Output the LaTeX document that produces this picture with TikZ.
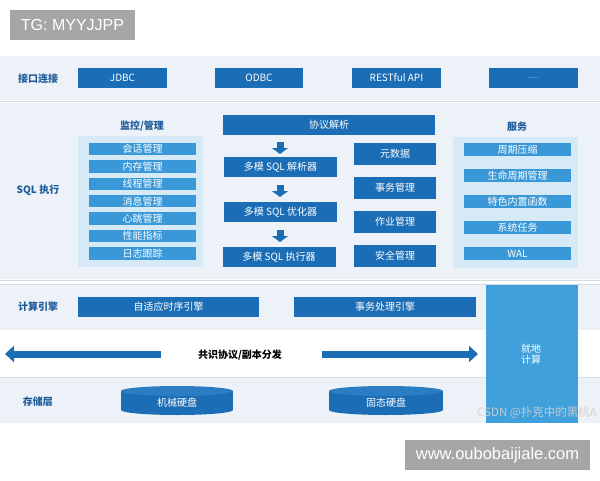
\documentclass[tikz,border=0pt]{standalone}
\usepackage{fontspec}
\setmainfont{Noto Sans CJK SC}
\newfontfamily\wmfont{Liberation Sans}
\usetikzlibrary{arrows.meta}
\definecolor{cdark}{HTML}{1B6DB5}
\definecolor{clight}{HTML}{3A98D8}
\definecolor{cpanel}{HTML}{D5E9F6}
\definecolor{cband}{HTML}{EDF2F8}
\definecolor{cline}{HTML}{D6DCE3}
\definecolor{clab}{HTML}{1E5B99}
\definecolor{cside}{HTML}{3FA0DC}
\definecolor{ctop}{HTML}{2A7DC2}
\definecolor{cwm}{HTML}{A6A6A6}
\tikzset{
  dbox/.style={fill=cdark, text=white, inner sep=0pt, font=\fontsize{10}{11}\selectfont},
  lbox/.style={fill=clight, text=white, inner sep=0pt, minimum width=107pt, font=\fontsize{10}{11}\selectfont},
  lab/.style={text=clab, font=\fontsize{10}{11}\selectfont\bfseries, inner sep=0pt},
  blockarrow/.style={cdark, line width=7pt, -{Triangle[length=6pt,width=16pt]}},
  bigarrow/.style={cdark, line width=7pt, -{Triangle[length=9pt,width=16pt]}},
  wmbox/.style={fill=cwm, text=white, inner sep=0pt}
}
\begin{document}
\begin{tikzpicture}[x=1pt,y=-1pt]
\useasboundingbox (0,0) rectangle (600,480);
\fill[white] (0,0) rectangle (600,480);
% bands
\fill[cband] (0,56) rectangle (600,100);
\draw[cline, line width=1pt] (0,101) -- (600,101);
\fill[cband] (0,103) rectangle (600,279);
\draw[cline, line width=1pt] (0,280.5) -- (600,280.5);
\draw[cline, line width=1pt] (0,284) -- (600,284);
\fill[cband] (0,285) rectangle (600,330);
\draw[cline, line width=0.8pt] (0,377.5) -- (600,377.5);
\fill[cband] (0,378) rectangle (600,423);

% watermark box top
\node[wmbox, minimum width=125pt, minimum height=30pt, font=\wmfont\fontsize{16}{17}\selectfont] (tg) at (72.5,25) {TG: MYYJJPP};

% row 1
\node[lab] (l1) at (38,79) {接口连接};
\node[dbox, minimum width=89pt, minimum height=20pt] (jdbc) at (122.5,78) {JDBC};
\node[dbox, minimum width=88pt, minimum height=20pt] (odbc) at (259,78) {ODBC};
\node[dbox, minimum width=89pt, minimum height=20pt] (rest) at (396.5,78) {RESTful API};
\node[dbox, minimum width=89pt, minimum height=20pt, font=\fontsize{6}{7}\selectfont] (more) at (533.5,78) {......};

% SQL row
\node[lab] (l2) at (38,190) {SQL 执行};
\node[lab] (t1) at (142,126) {监控/管理};
\node[fill=cpanel, minimum width=125pt, minimum height=131pt, inner sep=0pt] (p1) at (140.5,201.5) {};
\foreach \t [count=\i from 0] in {会话管理,内存管理,线程管理,消息管理,心跳管理,性能指标,日志跟踪}{
  \node[lbox, minimum height=12.5pt] (m\i) at (142.5,149+17.4*\i) {\t};
}
\node[dbox, minimum width=212pt, minimum height=20pt] (proto) at (329,125) {协议解析};
\node[dbox, minimum width=113pt, minimum height=20pt] (parse) at (280.5,167) {多模 SQL 解析器};
\node[dbox, minimum width=113pt, minimum height=20pt] (opt) at (280.5,212) {多模 SQL 优化器};
\node[dbox, minimum width=113pt, minimum height=20pt] (exec) at (279,257) {多模 SQL 执行器};
\coordinate (a1s) at (280,142); \coordinate (a1e) at (280,154);
\coordinate (a2s) at (280,185); \coordinate (a2e) at (280,197);
\coordinate (a3s) at (280,230); \coordinate (a3e) at (280,242);
\draw[blockarrow] (a1s) -- (a1e);
\draw[blockarrow] (a2s) -- (a2e);
\draw[blockarrow] (a3s) -- (a3e);
\node[dbox, minimum width=82pt, minimum height=22pt] (meta) at (395,154) {元数据};
\node[dbox, minimum width=82pt, minimum height=22pt] (txn) at (395,188) {事务管理};
\node[dbox, minimum width=82pt, minimum height=22pt] (job) at (395,222) {作业管理};
\node[dbox, minimum width=82pt, minimum height=22pt] (sec) at (395,256) {安全管理};
\node[lab] (t2) at (517,127) {服务};
\node[fill=cpanel, minimum width=125pt, minimum height=131pt, inner sep=0pt] (p2) at (515.5,202.5) {};
\foreach \t [count=\i from 0] in {周期压缩,生命周期管理,特色内置函数,系统任务,WAL}{
  \node[lbox, minimum height=13pt] (s\i) at (517.5,149.5+26*\i) {\t};
}

% compute row
\node[fill=cside, minimum width=92pt, minimum height=138pt, inner sep=0pt] (side) at (532,354) {};
\node[text=white, align=center, font=\fontsize{10}{11}\selectfont, inner sep=0pt] (sidet) at (531,354) {就地\\计算};
\node[lab] (l3) at (38,307) {计算引擎};
\node[dbox, minimum width=181pt, minimum height=20pt] (ts) at (168.5,307) {自适应时序引擎};
\node[dbox, minimum width=182pt, minimum height=20pt] (tp) at (385,307) {事务处理引擎};

% consensus
\node[text=black, font=\fontsize{10}{11}\selectfont\bfseries, inner sep=0pt] (cons) at (240,355) {共识协议/副本分发};
\coordinate (la) at (161,354); \coordinate (lb) at (5,354);
\coordinate (ra) at (322,354); \coordinate (rb) at (478,354);
\draw[bigarrow] (la) -- (lb);
\draw[bigarrow] (ra) -- (rb);

% storage
\node[lab] (l4) at (38,402) {存储层};
\fill[cdark] (177,410) ellipse (56pt and 5pt);
\fill[cdark] (121,391) rectangle (233,410);
\fill[ctop] (177,391) ellipse (56pt and 5pt);
\node[text=white, font=\fontsize{10}{11}\selectfont, inner sep=0pt] (hdd) at (177,403) {机械硬盘};
\fill[cdark] (386,410) ellipse (57pt and 5pt);
\fill[cdark] (329,391) rectangle (443,410);
\fill[ctop] (386,391) ellipse (57pt and 5pt);
\node[text=white, font=\fontsize{10}{11}\selectfont, inner sep=0pt] (ssd) at (386,403) {固态硬盘};

% watermarks
\node[anchor=west, text=black!18, opacity=0.9, font=\fontsize{11.5}{12}\selectfont, inner sep=0pt] (csdn) at (477,413) {CSDN @扑克中的黑桃A};
\node[wmbox, minimum width=185pt, minimum height=30pt, font=\wmfont\fontsize{16.5}{17}\selectfont] (www) at (497.5,455) {www.oubobaijiale.com};
\end{tikzpicture}
\end{document}
